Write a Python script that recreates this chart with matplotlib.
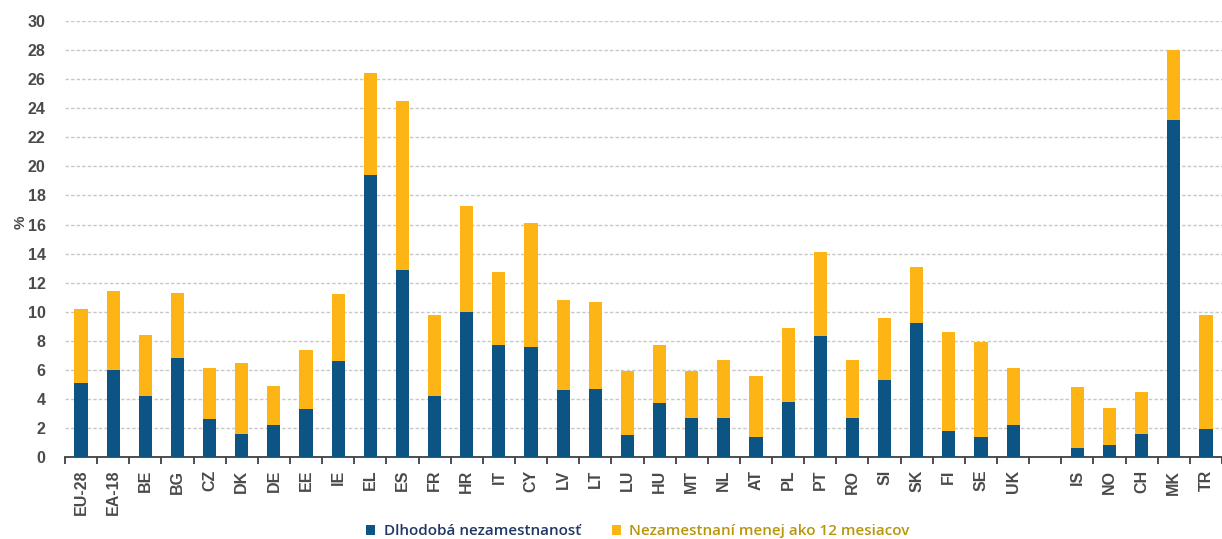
import matplotlib
matplotlib.use("Agg")
import matplotlib.pyplot as plt
from matplotlib.patches import Patch
import numpy as np

categories = ["EU-28", "EA-18", "BE", "BG", "CZ", "DK", "DE", "EE", "IE", "EL", "ES",
              "FR", "HR", "IT", "CY", "LV", "LT", "LU", "HU", "MT", "NL", "AT", "PL",
              "PT", "RO", "SI", "SK", "FI", "SE", "UK", "",
              "IS", "NO", "CH", "MK", "TR"]
long_term = [5.1, 6.0, 4.2, 6.8, 2.6, 1.6, 2.2, 3.3, 6.6, 19.4, 12.9,
             4.2, 10.0, 7.7, 7.6, 4.6, 4.7, 1.5, 3.7, 2.7, 2.7, 1.4, 3.8,
             8.3, 2.7, 5.3, 9.2, 1.8, 1.4, 2.2, 0,
             0.6, 0.8, 1.6, 23.2, 1.9]
total = [10.2, 11.4, 8.4, 11.3, 6.1, 6.5, 4.9, 7.4, 11.2, 26.4, 24.5,
         9.8, 17.3, 12.7, 16.1, 10.8, 10.7, 5.9, 7.7, 5.9, 6.7, 5.6, 8.9,
         14.1, 6.7, 9.6, 13.1, 8.6, 7.9, 6.1, 0,
         4.8, 3.4, 4.5, 28.0, 9.8]
short_term = [t - l for t, l in zip(total, long_term)]
series_labels = ["Dlhodobá nezamestnanosť", "Nezamestnaní menej ako 12 mesiacov"]
yticks = list(range(0, 31, 2))

blue = "#0B5484"
gold = "#FDB515"
tick_color = "#4A4A4A"

fig = plt.figure(figsize=(12.22, 5.39), dpi=100)
ax = fig.add_axes([0.0532, 0.152, 0.9468, 0.809])

x = np.arange(len(categories))
mask = np.array([c != "" for c in categories])
ax.bar(x[mask], np.array(long_term)[mask], width=0.41, color=blue, zorder=3)
ax.bar(x[mask], np.array(short_term)[mask], bottom=np.array(long_term)[mask],
       width=0.41, color=gold, zorder=3)

ax.set_ylim(0, 30)
ax.set_xlim(-0.5, 35.32)
ax.set_yticks(yticks)
ax.set_yticklabels([str(v) for v in yticks])
ax.yaxis.grid(True, linestyle=(0, (2.5, 1.5)), color="#C8C8C8", linewidth=1.0, zorder=0)
ax.set_axisbelow(True)

for s in ["top", "right", "left"]:
    ax.spines[s].set_visible(False)
ax.spines["bottom"].set_color("#404040")
ax.spines["bottom"].set_linewidth(1.3)

ax.set_xticks(x)
ax.set_xticklabels(categories, rotation=90, fontsize=11.5, color=tick_color,
                   family="Liberation Sans", fontweight="bold")
ax.tick_params(axis="x", which="major", length=0, pad=9)
ax.set_xticks(np.arange(-0.5, 35.6, 1.0), minor=True)
ax.tick_params(axis="x", which="minor", length=5, width=1.3, color="#404040", direction="out")
ax.tick_params(axis="y", length=0, pad=14, labelsize=11.5, labelcolor=tick_color)
for lab in ax.get_yticklabels():
    lab.set_family("Liberation Sans")
    lab.set_fontweight("bold")

fig.text(0.017, 0.588, "%", rotation=90, fontsize=11, color=tick_color,
         family="Liberation Sans", fontweight="bold", va="center", ha="center")

handles = [Patch(facecolor=blue, edgecolor="none"), Patch(facecolor=gold, edgecolor="none")]
fig.legend(handles, series_labels, loc="center", bbox_to_anchor=(0.522, 0.014), ncol=2,
           frameon=False, handlelength=0.6, handleheight=0.6, handletextpad=0.55,
           columnspacing=2.0, prop={"family": "Open Sans", "size": 11, "weight": "semibold"},
           labelcolor=["#1F3864", "#B8960C"])

fig.savefig("out.png", dpi=100, facecolor="white")
